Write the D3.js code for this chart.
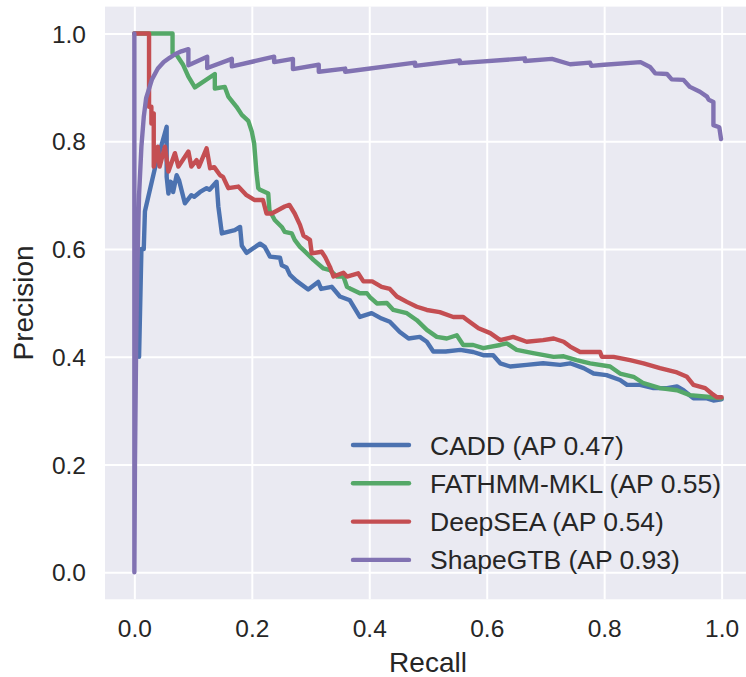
<!DOCTYPE html>
<html>
<head>
<meta charset="utf-8">
<script src="https://cdn.jsdelivr.net/npm/d3@7"></script>
<style>
  html, body { margin: 0; padding: 0; background: #ffffff; }
  svg { display: block; }
  text { font-family: "Liberation Sans", Arial, sans-serif; fill: #262626; }
</style>
</head>
<body>
<div id="chart"></div>
<script>
// ---- data ----
var models = ["CADD (AP 0.47)", "FATHMM-MKL (AP 0.55)", "DeepSEA (AP 0.54)", "ShapeGTB (AP 0.93)"];
var colors = ["#4C72B0", "#55A868", "#C44E52", "#8172B2"];
var tickValues = [0.0, 0.2, 0.4, 0.6, 0.8, 1.0];

var caddRecall = [0.008, 0.012, 0.016, 0.018, 0.035, 0.052, 0.055, 0.055, 0.058, 0.061, 0.064, 0.066, 0.072, 0.076, 0.086, 0.097, 0.102, 0.112, 0.123, 0.128, 0.140, 0.143, 0.149, 0.171, 0.180, 0.183, 0.191, 0.214, 0.222, 0.231, 0.248, 0.251, 0.259, 0.265, 0.276, 0.296, 0.313, 0.318, 0.336, 0.350, 0.367, 0.384, 0.404, 0.421, 0.435, 0.452, 0.467, 0.486, 0.498, 0.509, 0.530, 0.555, 0.577, 0.594, 0.611, 0.623, 0.640, 0.668, 0.696, 0.725, 0.742, 0.765, 0.782, 0.804, 0.827, 0.839, 0.861, 0.884, 0.907, 0.924, 0.935, 0.952, 0.975, 0.986, 1.000];
var caddPrecision = [0.400, 0.600, 0.600, 0.670, 0.750, 0.815, 0.827, 0.734, 0.703, 0.725, 0.723, 0.706, 0.737, 0.728, 0.685, 0.700, 0.697, 0.706, 0.713, 0.710, 0.725, 0.679, 0.629, 0.635, 0.641, 0.606, 0.593, 0.610, 0.604, 0.586, 0.584, 0.570, 0.566, 0.552, 0.541, 0.525, 0.539, 0.526, 0.530, 0.512, 0.505, 0.474, 0.481, 0.471, 0.465, 0.446, 0.434, 0.437, 0.428, 0.410, 0.410, 0.413, 0.409, 0.403, 0.403, 0.388, 0.382, 0.385, 0.388, 0.385, 0.388, 0.379, 0.369, 0.366, 0.357, 0.348, 0.348, 0.342, 0.342, 0.345, 0.338, 0.323, 0.323, 0.319, 0.321];

var fathmmRecall = [0.000, 0.065, 0.065, 0.072, 0.083, 0.092, 0.103, 0.137, 0.137, 0.154, 0.160, 0.174, 0.183, 0.194, 0.200, 0.204, 0.208, 0.211, 0.214, 0.228, 0.230, 0.239, 0.251, 0.256, 0.268, 0.273, 0.282, 0.288, 0.305, 0.322, 0.333, 0.345, 0.356, 0.362, 0.367, 0.384, 0.396, 0.401, 0.413, 0.430, 0.441, 0.464, 0.481, 0.498, 0.515, 0.532, 0.549, 0.560, 0.577, 0.594, 0.623, 0.634, 0.651, 0.679, 0.714, 0.731, 0.753, 0.776, 0.810, 0.827, 0.850, 0.867, 0.895, 0.924, 0.946, 0.975, 1.000];
var fathmmPrecision = [1.000, 1.000, 0.963, 0.960, 0.942, 0.920, 0.900, 0.925, 0.898, 0.901, 0.883, 0.864, 0.849, 0.838, 0.818, 0.796, 0.741, 0.713, 0.710, 0.703, 0.672, 0.654, 0.641, 0.632, 0.629, 0.617, 0.604, 0.598, 0.580, 0.564, 0.561, 0.549, 0.549, 0.530, 0.527, 0.518, 0.518, 0.511, 0.499, 0.500, 0.487, 0.481, 0.468, 0.450, 0.437, 0.434, 0.440, 0.422, 0.422, 0.416, 0.422, 0.425, 0.413, 0.407, 0.400, 0.401, 0.394, 0.388, 0.382, 0.369, 0.363, 0.351, 0.342, 0.338, 0.329, 0.326, 0.323];

var deepseaRecall = [0.000, 0.025, 0.025, 0.029, 0.029, 0.033, 0.033, 0.040, 0.043, 0.052, 0.058, 0.069, 0.075, 0.092, 0.097, 0.106, 0.110, 0.123, 0.129, 0.136, 0.146, 0.151, 0.160, 0.177, 0.191, 0.205, 0.219, 0.225, 0.234, 0.256, 0.264, 0.273, 0.282, 0.288, 0.299, 0.302, 0.319, 0.325, 0.333, 0.339, 0.356, 0.362, 0.381, 0.390, 0.405, 0.421, 0.435, 0.447, 0.464, 0.481, 0.498, 0.520, 0.543, 0.560, 0.566, 0.586, 0.606, 0.623, 0.645, 0.668, 0.696, 0.714, 0.731, 0.742, 0.759, 0.793, 0.796, 0.816, 0.844, 0.867, 0.895, 0.924, 0.941, 0.952, 0.972, 0.983, 0.992, 1.000];
var deepseaPrecision = [1.000, 1.000, 0.864, 0.864, 0.833, 0.852, 0.753, 0.790, 0.753, 0.790, 0.744, 0.778, 0.753, 0.781, 0.753, 0.765, 0.753, 0.787, 0.750, 0.752, 0.737, 0.734, 0.713, 0.716, 0.700, 0.691, 0.691, 0.666, 0.666, 0.679, 0.682, 0.666, 0.645, 0.625, 0.617, 0.592, 0.595, 0.585, 0.567, 0.549, 0.556, 0.549, 0.555, 0.540, 0.540, 0.530, 0.526, 0.512, 0.502, 0.493, 0.487, 0.483, 0.474, 0.474, 0.469, 0.453, 0.444, 0.431, 0.437, 0.428, 0.431, 0.434, 0.428, 0.419, 0.409, 0.409, 0.400, 0.400, 0.394, 0.388, 0.379, 0.371, 0.363, 0.348, 0.342, 0.332, 0.325, 0.325];

var shapeRecall = [0.000, 0.000, 0.001, 0.003, 0.005, 0.008, 0.012, 0.016, 0.020, 0.030, 0.040, 0.050, 0.060, 0.070, 0.080, 0.092, 0.092, 0.124, 0.124, 0.166, 0.166, 0.238, 0.238, 0.270, 0.270, 0.314, 0.314, 0.359, 0.359, 0.478, 0.478, 0.554, 0.554, 0.665, 0.665, 0.711, 0.742, 0.776, 0.778, 0.800, 0.862, 0.878, 0.887, 0.907, 0.915, 0.935, 0.946, 0.963, 0.975, 0.978, 0.986, 0.986, 0.996, 0.999];
var shapePrecision = [1.000, 0.000, 0.200, 0.420, 0.560, 0.700, 0.790, 0.845, 0.880, 0.915, 0.935, 0.947, 0.955, 0.962, 0.967, 0.971, 0.941, 0.957, 0.936, 0.953, 0.939, 0.957, 0.947, 0.953, 0.934, 0.942, 0.929, 0.935, 0.929, 0.946, 0.940, 0.950, 0.945, 0.954, 0.949, 0.953, 0.943, 0.946, 0.940, 0.942, 0.947, 0.938, 0.926, 0.925, 0.915, 0.914, 0.901, 0.892, 0.883, 0.877, 0.873, 0.830, 0.826, 0.804];

var seriesRecall = [caddRecall, fathmmRecall, deepseaRecall, shapeRecall];
var seriesPrecision = [caddPrecision, fathmmPrecision, deepseaPrecision, shapePrecision];

// ---- layout ----
var W = 746, H = 677;
var plot = { left: 105, right: 751, top: 6.6, bottom: 599.3 };

var x = d3.scaleLinear().domain([-0.05, 1.05]).range([plot.left, plot.right]);
var y = d3.scaleLinear().domain([-0.05, 1.05]).range([plot.bottom, plot.top]);

var svg = d3.select("#chart").append("svg")
    .attr("width", W)
    .attr("height", H);

svg.append("defs").append("clipPath").attr("id", "plotclip")
  .append("rect")
    .attr("x", plot.left).attr("y", plot.top)
    .attr("width", plot.right - plot.left).attr("height", plot.bottom - plot.top);

// background
svg.append("rect")
    .attr("x", plot.left).attr("y", plot.top)
    .attr("width", plot.right - plot.left).attr("height", plot.bottom - plot.top)
    .attr("fill", "#EAEAF2");

// grid via axes
var gx = svg.append("g")
    .attr("transform", "translate(0," + plot.bottom + ")")
    .call(d3.axisBottom(x).tickValues(tickValues).tickSize(-(plot.bottom - plot.top)).tickPadding(14).tickFormat(d3.format(".1f")));
var gy = svg.append("g")
    .attr("transform", "translate(" + plot.left + ",0)")
    .call(d3.axisLeft(y).tickValues(tickValues).tickSize(-(plot.right - plot.left)).tickPadding(19).tickFormat(d3.format(".1f")));

[gx, gy].forEach(function (g) {
  g.select(".domain").remove();
  g.selectAll(".tick line").attr("stroke", "#ffffff").attr("stroke-width", 2);
  g.selectAll(".tick text").attr("fill", "#262626").style("font-size", "24.5px");
});
gx.selectAll(".tick text").attr("y", 38).attr("dy", 0);
gy.selectAll(".tick text").attr("x", -19).attr("dy", "0.35em");

// curves
var line = d3.line()
    .x(function (d) { return x(d[0]); })
    .y(function (d) { return y(d[1]); });

var curves = svg.append("g").attr("clip-path", "url(#plotclip)");
models.forEach(function (name, i) {
  var pts = seriesRecall[i].map(function (r, j) { return [r, seriesPrecision[i][j]]; });
  curves.append("path")
      .datum(pts)
      .attr("d", line)
      .attr("fill", "none")
      .attr("stroke", colors[i])
      .attr("stroke-width", 4.4)
      .attr("stroke-linejoin", "round")
      .attr("stroke-linecap", "round");
});

// axis labels
svg.append("text")
    .attr("x", (plot.left + plot.right) / 2)
    .attr("y", 672)
    .attr("text-anchor", "middle")
    .style("font-size", "28px")
    .text("Recall");
svg.append("text")
    .attr("transform", "translate(33," + ((plot.top + plot.bottom) / 2) + ") rotate(-90)")
    .attr("text-anchor", "middle")
    .style("font-size", "28px")
    .text("Precision");

// legend
var legend = svg.selectAll(".legend")
    .data(models)
    .enter().append("g")
    .attr("class", "legend")
    .attr("transform", function (d, i) { return "translate(0," + (445 + i * 38.3) + ")"; });
legend.append("line")
    .attr("x1", 353).attr("x2", 409)
    .attr("stroke", function (d, i) { return colors[i]; })
    .attr("stroke-width", 4.4)
    .attr("stroke-linecap", "round");
legend.append("text")
    .attr("x", 430)
    .attr("y", 9.5)
    .style("font-size", "26.5px")
    .text(function (d) { return d; });
</script>
</body>
</html>
